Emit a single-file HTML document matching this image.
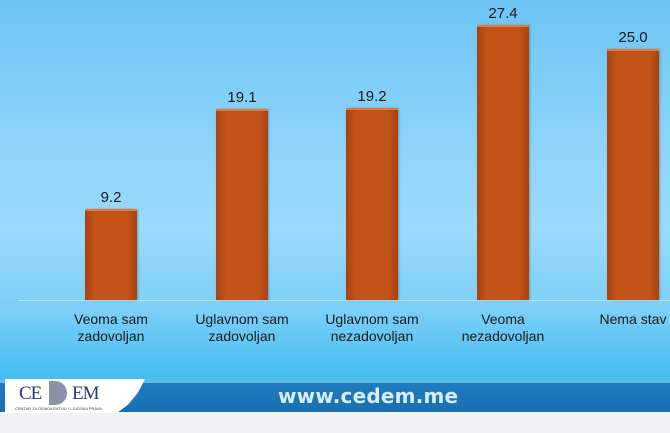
<!DOCTYPE html>
<html><head><meta charset="utf-8"><style>
body{margin:0;width:670px;height:433px;overflow:hidden;position:relative;font-family:"Liberation Sans",sans-serif;
background:linear-gradient(to bottom,#6cc4f5 0px,#8fd5fa 150px,#9adafa 230px,#7ccff7 310px,#45bdf0 375px);}
.bar{position:absolute;width:52px;background:linear-gradient(to right,#a8420f,#c4531a 20%,#c4531a 80%,#a8420f);border-top:2px solid #e07a40;box-sizing:border-box;box-shadow:1px 0 2px rgba(0,0,0,.25)}
.v{position:absolute;width:80px;text-align:center;font-size:15px;color:#1a1a1a}
.l{position:absolute;width:130px;text-align:center;font-size:14px;line-height:17px;color:#1a1a1a}
</style></head><body>
<div style="position:absolute;left:18px;top:300px;width:652px;height:1px;background:#b8e4fb"></div>
<div class="bar" style="left:85px;top:209px;height:91px"></div>
<div class="bar" style="left:216px;top:109px;height:191px"></div>
<div class="bar" style="left:346px;top:108px;height:192px"></div>
<div class="bar" style="left:477px;top:25px;height:275px"></div>
<div class="bar" style="left:607px;top:49px;height:251px"></div>
<div class="v" style="left:71px;top:189px">9.2</div>
<div class="v" style="left:202px;top:89px">19.1</div>
<div class="v" style="left:332px;top:88px">19.2</div>
<div class="v" style="left:463px;top:5px">27.4</div>
<div class="v" style="left:593px;top:29px">25.0</div>
<div class="l" style="left:46px;top:311px">Veoma sam<br>zadovoljan</div>
<div class="l" style="left:177px;top:311px">Uglavnom sam<br>zadovoljan</div>
<div class="l" style="left:307px;top:311px">Uglavnom sam<br>nezadovoljan</div>
<div class="l" style="left:438px;top:311px">Veoma<br>nezadovoljan</div>
<div class="l" style="left:568px;top:311px">Nema stav</div>
<div style="position:absolute;left:0;top:379px;width:670px;height:4px;background:#5cb8e8"></div>
<div style="position:absolute;left:0;top:383px;width:670px;height:29px;background:linear-gradient(to bottom,#1e7cc0,#1a6fb0)"></div>
<div style="position:absolute;left:0;top:412px;width:670px;height:21px;background:#f0f2f3"></div>
<div style="position:absolute;left:5px;top:379px;width:140px;height:34px;background:#fff;clip-path:polygon(0 0,100% 0,95% 40%,88% 75%,80% 100%,0 100%)"></div>
<div style="position:absolute;left:19px;top:383px;font-family:'Liberation Serif',serif;font-size:19px;color:#2a3a7a;letter-spacing:-1px">CE</div>
<div style="position:absolute;left:49px;top:381px;width:18px;height:24px;background:#8a92a6;border-radius:0 12px 12px 0"></div>
<div style="position:absolute;left:72px;top:383px;font-family:'Liberation Serif',serif;font-size:19px;color:#2a3a7a;letter-spacing:-1px">EM</div>
<div style="position:absolute;left:15px;top:406px;font-size:4px;color:#445">CENTAR ZA DEMOKRATIJU I LJUDSKA PRAVA</div>
<div style="position:absolute;left:278px;top:384px;font-family:'DejaVu Sans',sans-serif;font-size:20px;font-weight:bold;color:#d8eefa;letter-spacing:0.2px">www.cedem.me</div>
</body></html>
